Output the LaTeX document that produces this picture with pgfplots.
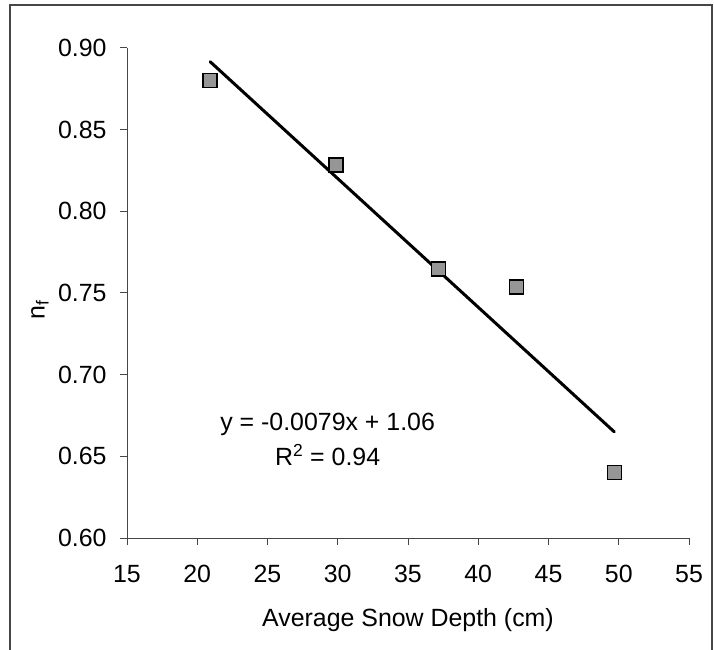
\documentclass[border=0pt]{standalone}
\usepackage{pgfplots}
\pgfplotsset{compat=1.18}
\usepackage{fontspec}
\setmainfont{Liberation Sans}
\definecolor{markgray}{RGB}{150,150,150}
\definecolor{axgray}{RGB}{70,70,70}
\begin{document}
\begin{tikzpicture}
\draw[axgray, line width=1.2bp] (10bp,0bp) -- (10bp,645bp) -- (712bp,645bp) -- (712bp,0bp);
\begin{axis}[
  at={(127bp,112bp)}, anchor=south west,
  scale only axis, width=562bp, height=490bp,
  xmin=15, xmax=55, ymin=0.6, ymax=0.9,
  axis lines=left,
  axis line style={-, axgray, line width=1bp},
  xtick={15,20,25,30,35,40,45,50,55},
  ytick={0.6,0.65,0.7,0.75,0.8,0.85,0.9},
  tick align=outside,
  major tick length=7bp,
  tick style={axgray, line width=1bp},
  /pgf/number format/assume math mode=true,
  yticklabel style={/pgf/number format/fixed, /pgf/number format/fixed zerofill, /pgf/number format/precision=2, xshift=-10bp},
  xticklabel style={yshift=-17bp},
  tick label style={font=\fontsize{25}{30}\selectfont},
  every axis x label/.style={at={(axis description cs:0.5,-0.167)}, anchor=center, font=\fontsize{25}{30}\selectfont},
  every axis y label/.style={at={(axis description cs:-0.1548,0.465)}, rotate=90, anchor=center, font=\fontsize{25}{30}\selectfont},
  xlabel={Average Snow Depth (cm)},
  ylabel={n\textsubscript{f}},
  clip=false,
]
\addplot[black, line width=3bp, line cap=round] coordinates {(20.92,0.8916) (49.68,0.665)};
\addplot[only marks, mark=square*, mark size=7bp, mark options={fill=markgray, draw=black, line width=1.5bp}]
  coordinates {(20.92,0.880) (29.89,0.8285) (37.17,0.7648) (42.71,0.7538) (49.68,0.640)};
\node[align=center, font=\fontsize{25}{35}\selectfont] at (axis cs:29.28,0.6606) {y = -0.0079x + 1.06\\R\textsuperscript{2} = 0.94};
\end{axis}
\pgfresetboundingbox
\useasboundingbox (0,0) rectangle (714bp,650bp);
\end{tikzpicture}
\end{document}
